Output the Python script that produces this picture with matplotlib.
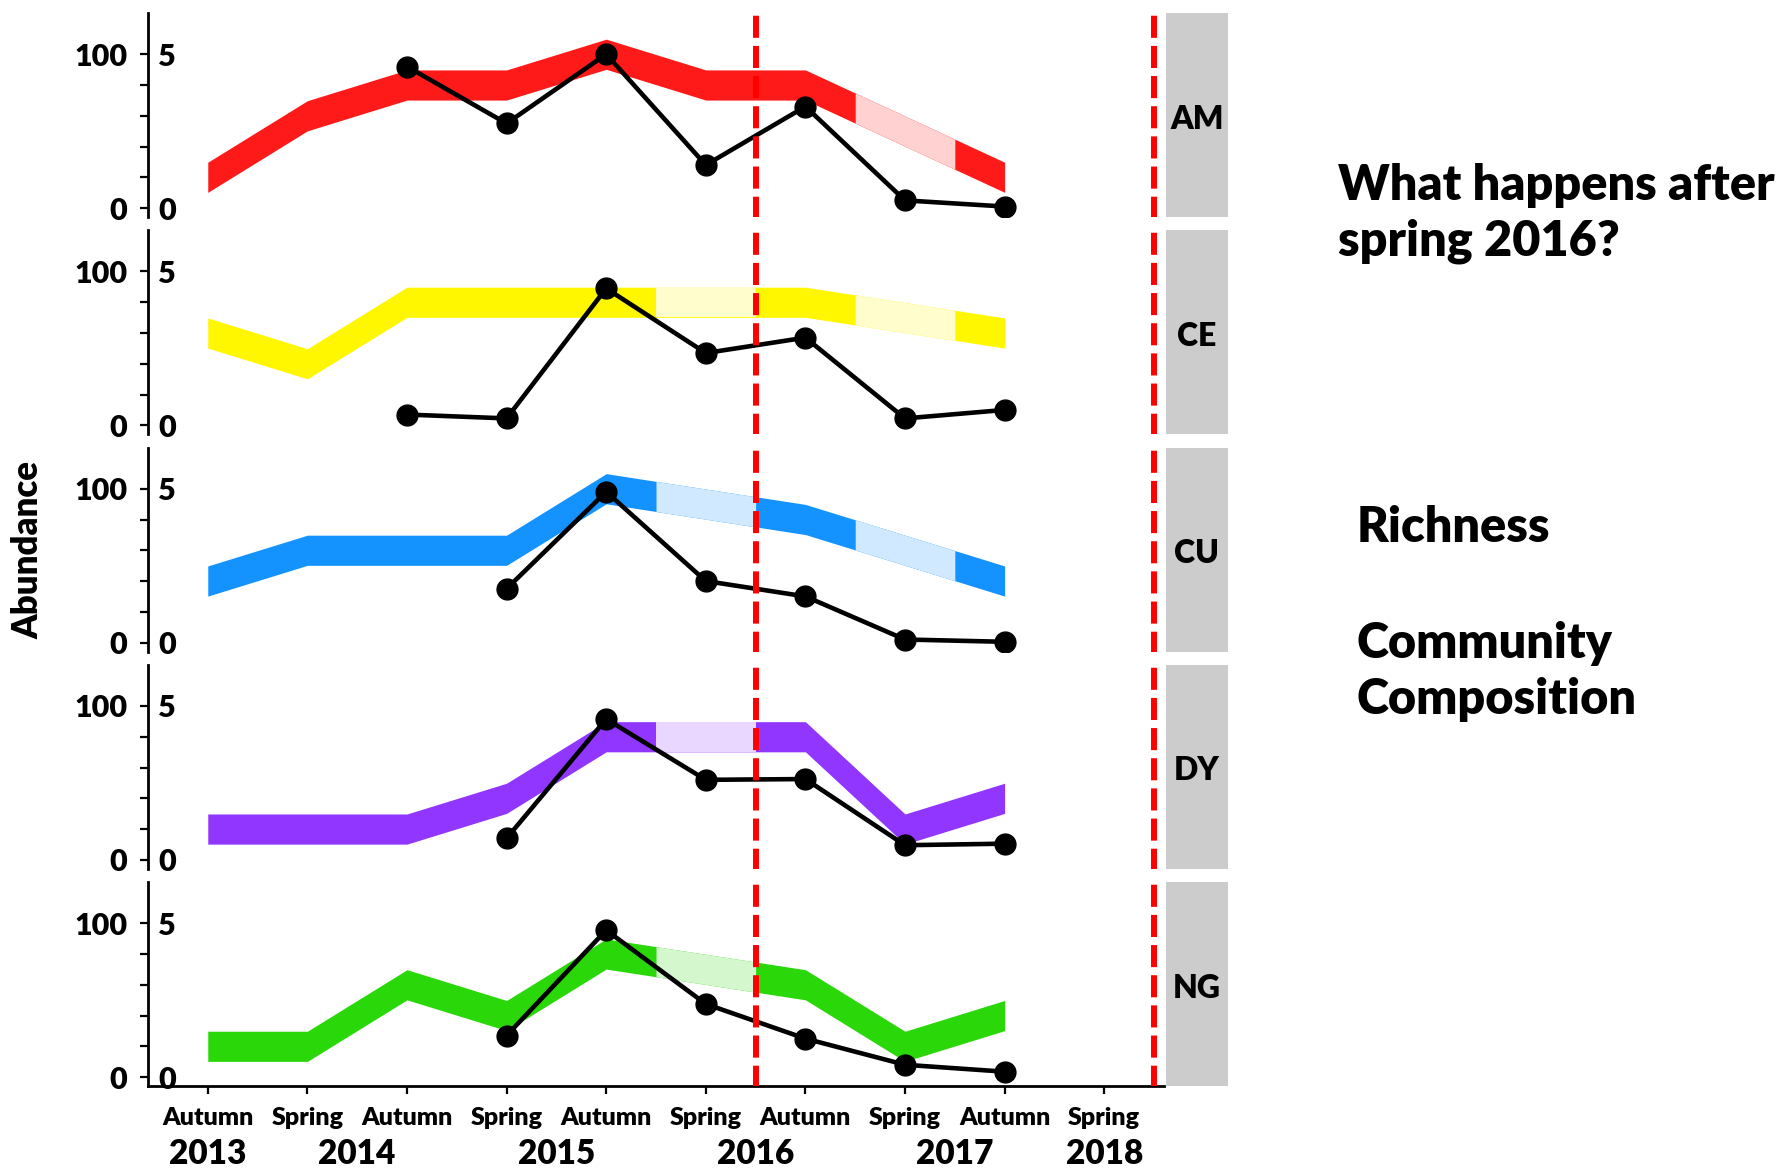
import numpy as np
import matplotlib
matplotlib.use("Agg")
import matplotlib.pyplot as plt
from matplotlib.colors import to_rgb

plt.rcParams['font.family'] = ['Lato', 'DejaVu Sans']
plt.rcParams['font.weight'] = 'heavy'

# ---------------- data ----------------
seasons = ["Autumn", "Spring", "Autumn", "Spring", "Autumn",
           "Spring", "Autumn", "Spring", "Autumn", "Spring"]
years = ["2013", "2014", "2015", "2016", "2017", "2018"]
year_pos = [0, 1.5, 3.5, 5.5, 7.5, 9]

groups = ["AM", "CE", "CU", "DY", "NG"]
colors = ["#FF1A1A", "#FFF700", "#1493FF", "#9036FF", "#2AD80A"]

# richness (0-5 scale), seasons 0..8
rich_AM = [1, 3, 4, 4, 5, 4, 4, 2.5, 1]
rich_CE = [3, 2, 4, 4, 4, 4, 4, 3.5, 3]
rich_CU = [2, 3, 3, 3, 5, 4.5, 4, 3, 2]
rich_DY = [1, 1, 1, 2, 4, 4, 4, 1, 2]
rich_NG = [1, 1, 3, 2, 4, 3.5, 3, 1, 2]
richness = [rich_AM, rich_CE, rich_CU, rich_DY, rich_NG]

# seasons with no richness sample (shown faded)
faded_AM = [7]
faded_CE = [5, 7]
faded_CU = [5, 7]
faded_DY = [5]
faded_NG = [5]
faded = [faded_AM, faded_CE, faded_CU, faded_DY, faded_NG]

# abundance (0-100), seasons 0..8
nan = np.nan
abund_AM = [nan, nan, 92, 55, 100, 28, 66, 5, 1]
abund_CE = [nan, nan, 7, 4.5, 89, 47, 57, 4.5, 10]
abund_CU = [nan, nan, nan, 35, 98, 40, 30, 2, 0.5]
abund_DY = [nan, nan, nan, 14, 91.5, 52, 52.5, 9.5, 10.5]
abund_NG = [nan, nan, nan, 27, 95.5, 47.5, 25, 8, 3.5]
abundance = [abund_AM, abund_CE, abund_CU, abund_DY, abund_NG]

vlines = [5.5, 9.5]

# ---------------- layout ----------------
W, H = 1783, 1169
fig = plt.figure(figsize=(W / 100, H / 100), dpi=100)
left_px, right_px = 148, 1164
top0, pitch, hgt = 13, 217.25, 204
strip_l, strip_w = 1166, 62
scale = 20.0          # richness unit -> abundance units
half = 0.49 * scale   # ribbon half thickness

for k, g in enumerate(groups):
    top = top0 + k * pitch
    ax = fig.add_axes([left_px / W, 1 - (top + hgt) / H,
                       (right_px - left_px) / W, hgt / H])
    x = np.arange(len(richness[k]))
    r = np.array(richness[k], dtype=float) * scale
    col = np.array(to_rgb(colors[k]))
    light = 0.2 * col + 0.8 * np.ones(3)
    ax.fill_between(x, r - half, r + half, color=col, lw=0, zorder=1)
    for i in faded[k]:
        xs = np.array([max(i - 0.5, 0), i, min(i + 0.5, x[-1])])
        ys = np.interp(xs, x, r)
        ax.fill_between(xs, ys - half, ys + half, color=light, lw=0, zorder=1.5)

    xa = np.arange(len(abundance[k]))
    ax.plot(xa, abundance[k], color="black", lw=3.3, marker="o", ms=15,
            zorder=3, solid_capstyle="butt")

    for v in vlines:
        ax.axvline(v, color="#FF0000", lw=4.3, ls=(0.3, (3.7, 1.35)),
                   zorder=4, dash_capstyle="butt")

    ax.set_xlim(-0.6, 9.6)
    ax.set_ylim(-5.8, 126.8)
    ax.set_yticks([0, 100])
    ax.set_yticklabels(["0", "100"])
    ax.set_yticks([20, 40, 60, 80], minor=True)
    ax.tick_params(axis="y", which="both", length=6, width=1.6,
                   direction="out", labelsize=22, pad=9)
    for s in ["top", "right"]:
        ax.spines[s].set_visible(False)
    ax.spines["left"].set_linewidth(2)

    sec = ax.secondary_yaxis("left", functions=(lambda y: y / scale,
                                                lambda q: q * scale))
    sec.set_yticks([0, 5])
    sec.set_yticklabels(["0", "5"])
    sec.tick_params(length=0, pad=-20, labelsize=22)
    sec.spines["left"].set_visible(False)

    if k < len(groups) - 1:
        ax.spines["bottom"].set_visible(False)
        ax.set_xticks([])
    else:
        ax.spines["bottom"].set_linewidth(2)
        ax.set_xticks(np.arange(len(seasons)))
        ax.set_xticklabels(seasons)
        ax.tick_params(axis="x", length=6, width=1.6, labelsize=18, pad=9)
        for yl, yp in zip(years, year_pos):
            ax.text(yp, -78 / hgt, yl, transform=ax.get_xaxis_transform(),
                    ha="center", va="baseline", fontsize=24)

    sax = fig.add_axes([strip_l / W, 1 - (top + hgt) / H, strip_w / W, hgt / H])
    sax.set_facecolor("#CCCCCC")
    sax.set_xticks([]); sax.set_yticks([])
    for s in sax.spines.values():
        s.set_visible(False)
    sax.text(0.5, 0.48, g, ha="center", va="center", fontsize=23,
             transform=sax.transAxes)

fig.text(28 / W, 1 - 550 / H, "Abundance", rotation=90, ha="center",
         va="center", fontsize=25)

fs = 35
fig.text(1338 / W, 1 - 199.6 / H, "What happens after", va="baseline",
         ha="left", fontsize=fs)
fig.text(1338 / W, 1 - 255.6 / H, "spring 2016?", va="baseline",
         ha="left", fontsize=fs)
fig.text(1357 / W, 1 - 542 / H, "Richness", va="baseline", ha="left", fontsize=fs)
fig.text(1357 / W, 1 - 658 / H, "Community", va="baseline", ha="left", fontsize=fs)
fig.text(1357 / W, 1 - 714 / H, "Composition", va="baseline", ha="left", fontsize=fs)

fig.savefig("out.png", dpi=100)
